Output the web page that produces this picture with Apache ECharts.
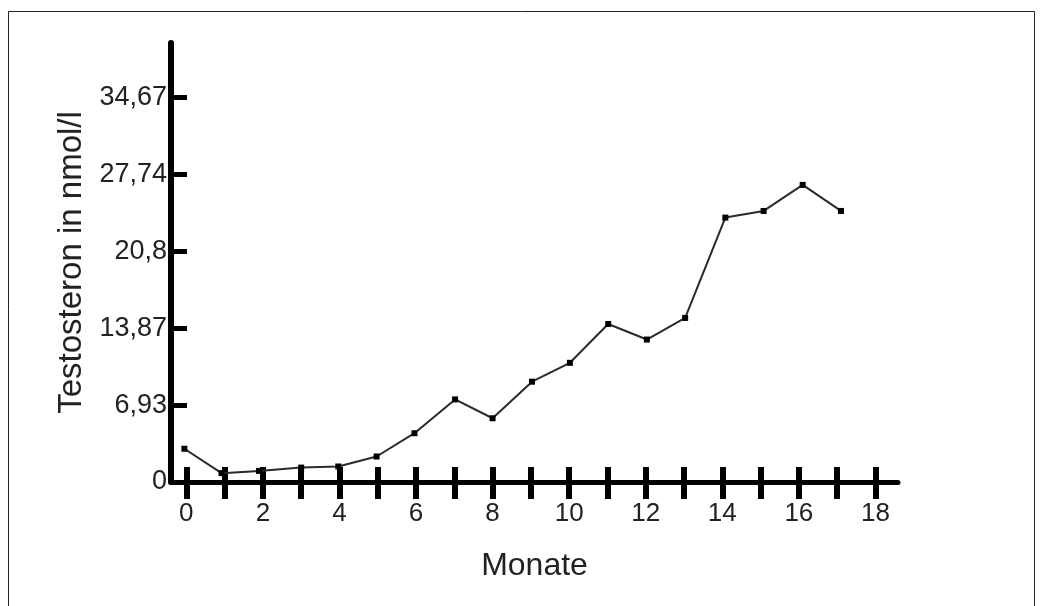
<!DOCTYPE html>
<html>
<head>
<meta charset="utf-8">
<script src="https://cdn.jsdelivr.net/npm/echarts@6/dist/echarts.min.js"></script>
<style>
html,body{margin:0;padding:0;background:#fff;}
#chart{width:1042px;height:606px;}
</style>
</head>
<body>
<div id="chart"></div>
<script>
// Data
const months = [-0.05, 0.92, 1.9, 3.0, 3.97, 4.97, 5.96, 7.02, 8.0, 9.03, 10.02, 11.02, 12.03, 13.03, 14.08, 15.08, 16.1, 17.1];
const testosterone = [3.0, 0.8, 1.0, 1.3, 1.4, 2.3, 4.4, 7.45, 5.75, 9.05, 10.75, 14.25, 12.85, 14.8, 23.85, 24.45, 26.8, 24.45];
const xTickValues = [0,1,2,3,4,5,6,7,8,9,10,11,12,13,14,15,16,17,18];
const xLabelValues = [0,2,4,6,8,10,12,14,16,18];
const yTickValues = [6.93, 13.87, 20.8, 27.74, 34.67];
const yLabelValues = [0, 6.93, 13.87, 20.8, 27.74, 34.67];
const xName = 'Monate';
const yName = 'Testosteron in nmol/l';

const points = months.map((m, i) => [m, testosterone[i]]);
const font = 'Liberation Sans, Arial, sans-serif';

const chart = echarts.init(document.getElementById('chart'), null, {renderer: 'canvas'});
chart.setOption({
  animation: false,
  backgroundColor: '#fff',
  graphic: [{
    type: 'rect', silent: true, z: -10,
    shape: {x: 8.5, y: 11.5, width: 1026, height: 640},
    style: {fill: 'none', stroke: '#222', lineWidth: 1}
  }],
  grid: {left: 171, right: 144, top: 43, bottom: 124, containLabel: false},
  xAxis: [{
    type: 'value', min: -0.4, max: 18.59,
    splitLine: {show: false},
    axisLine: {show: true, onZero: false, lineStyle: {color: '#000', width: 5}},
    axisTick: {show: true, inside: false, length: 17, customValues: xTickValues, lineStyle: {color: '#000', width: 6}},
    axisLabel: {show: true, customValues: xLabelValues, margin: 19, fontFamily: font, fontSize: 26, color: '#222'},
    name: xName, nameLocation: 'middle', nameGap: 68,
    nameTextStyle: {fontFamily: font, fontSize: 32, color: '#222'}
  }, {
    type: 'value', min: -0.4, max: 18.59, position: 'bottom',
    splitLine: {show: false},
    axisLine: {show: false, onZero: false},
    axisTick: {show: true, inside: true, length: 15, customValues: xTickValues, lineStyle: {color: '#000', width: 6}},
    axisLabel: {show: false}
  }],
  yAxis: {
    type: 'value', min: 0, max: 39.6,
    splitLine: {show: false},
    axisLine: {show: true, onZero: false, lineStyle: {color: '#000', width: 6}},
    axisTick: {show: true, inside: true, length: 16, customValues: yTickValues, lineStyle: {color: '#000', width: 5}},
    axisLabel: {show: true, customValues: yLabelValues, margin: 4, fontFamily: font, fontSize: 27, color: '#222',
      formatter: v => String(v).replace('.', ',')},
    name: yName, nameLocation: 'middle', nameGap: 78,
    nameTextStyle: {fontFamily: font, fontSize: 33, color: '#222'}
  },
  series: [{
    type: 'line', xAxisIndex: 0, data: points,
    symbol: 'rect', symbolSize: 6, showSymbol: true,
    lineStyle: {color: '#2a2a2a', width: 2},
    itemStyle: {color: '#000'},
    z: 1
  }]
});
</script>
</body>
</html>
